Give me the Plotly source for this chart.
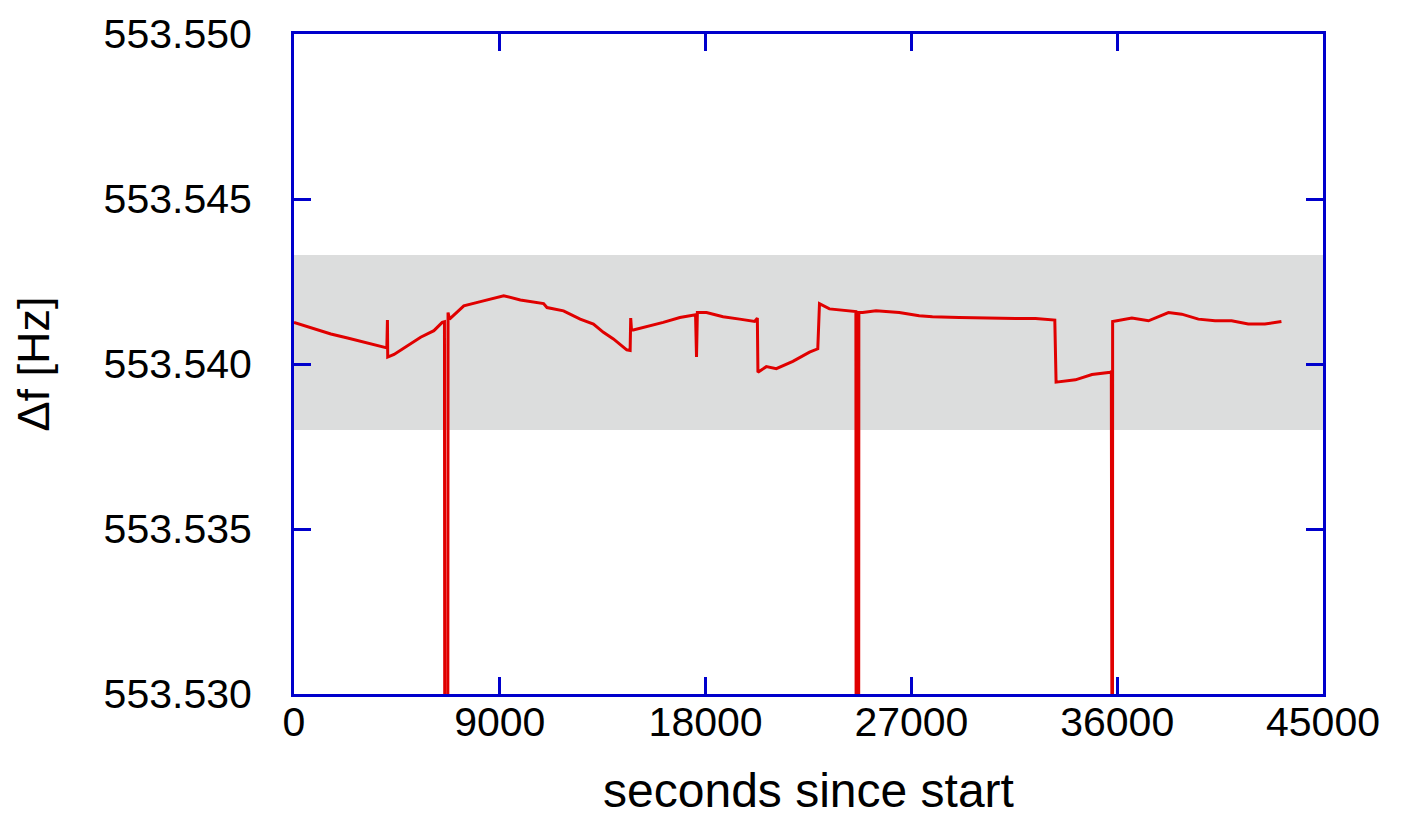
import plotly.graph_objects as go

# Time (seconds since start) and frequency offset readings
t_sec = [0, 741, 1613, 2342, 3065, 4012, 4060, 4086, 4099, 4374, 4958, 5538, 6118, 6484, 6580,
         6600, 6720, 6737, 6800, 7426, 8154, 9170, 9898, 10914, 11063, 11786, 12515, 13095,
         13531, 13967, 14551, 14700, 14725, 14760, 14839, 15423, 16147, 16875, 17529, 17560,
         17603, 17640, 18039, 18763, 19491, 20146, 20263, 20289, 20656, 21092, 21816, 22544,
         22906, 22980, 23416, 24144, 24506, 24572, 24590, 24690, 24702, 24868, 25452, 26468,
         27340, 27920, 29085, 30100, 31557, 32429, 33271, 33327, 34173, 34897, 35699, 35743,
         35760, 35790, 35800, 36641, 37369, 38242, 38822, 39550, 40278, 41002, 41730, 42458,
         43182]
df_hz = [553.54126, 553.54109, 553.54091, 553.54079, 553.54066, 553.54049, 553.54049,
         553.54133, 553.54021, 553.54029, 553.54056, 553.54081, 553.54101, 553.54126,
         553.54128, 553.52000, 553.52000, 553.54156, 553.54136, 553.54176, 553.54189,
         553.54207, 553.54194, 553.54183, 553.54171, 553.54161, 553.54136, 553.54121,
         553.54096, 553.54076, 553.54043, 553.54041, 553.54139, 553.54103, 553.54103,
         553.54113, 553.54126, 553.54141, 553.54149, 553.54149, 553.54021, 553.54156,
         553.54156, 553.54143, 553.54136, 553.54129, 553.54139, 553.53975, 553.53992,
         553.53986, 553.54008, 553.54036, 553.54046, 553.54183, 553.54167, 553.54161,
         553.54159, 553.54159, 553.52000, 553.52000, 553.54156, 553.54156, 553.54161,
         553.54156, 553.54146, 553.54143, 553.54141, 553.54139, 553.54138, 553.54138,
         553.54133, 553.53945, 553.53952, 553.53968, 553.53975, 553.53978, 553.52000,
         553.52000, 553.54129, 553.54139, 553.54131, 553.54156, 553.54151, 553.54136,
         553.54131, 553.54131, 553.54121, 553.54121, 553.54129]

band_low = 553.5380
band_high = 553.5433

x_ticks = [0, 9000, 18000, 27000, 36000, 45000]
x_tick_text = ["0", "9000", "18000", "27000", "36000", "45000"]
y_ticks = [553.530, 553.535, 553.540, 553.545, 553.550]
y_tick_text = ["553.530", "553.535", "553.540", "553.545", "553.550"]

axis_blue = "#0000cc"
font_family = "Liberation Sans, Arial, Helvetica, sans-serif"

fig = go.Figure()
fig.add_shape(type="rect", xref="paper", x0=0, x1=1, yref="y", y0=band_low, y1=band_high,
              fillcolor="#dcdddd", line_width=0, layer="below")
fig.add_trace(go.Scatter(x=t_sec, y=df_hz, mode="lines",
                         line=dict(color="#e00000", width=3), showlegend=False))

axis_common = dict(showline=True, linecolor=axis_blue, linewidth=3, mirror="ticks",
                   ticks="inside", ticklen=17, tickwidth=3, tickcolor=axis_blue,
                   showgrid=False, zeroline=False,
                   tickfont=dict(family=font_family, size=41, color="black"))

fig.update_xaxes(range=[0, 45000], tickvals=x_ticks, ticktext=x_tick_text,
                 ticklabelstandoff=-10,
                 title=dict(text="seconds since start", standoff=30,
                            font=dict(family=font_family, size=48, color="black")),
                 **axis_common)
fig.update_yaxes(range=[553.530, 553.550], tickvals=y_ticks, ticktext=y_tick_text,
                 ticklabelstandoff=31,
                 title=dict(text="Δf [Hz]", standoff=60,
                            font=dict(family=font_family, size=45, color="black")),
                 **axis_common)

fig.update_layout(width=1403, height=819, plot_bgcolor="white", paper_bgcolor="white",
                  margin=dict(l=286, r=88, t=26, b=133, autoexpand=False))

fig.write_html("out.html")
